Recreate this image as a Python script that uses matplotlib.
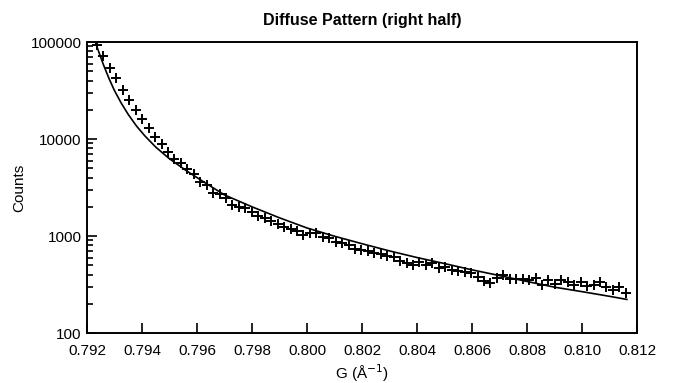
import matplotlib
matplotlib.use("Agg")
import matplotlib.pyplot as plt
from matplotlib.ticker import LogLocator, FixedLocator, FormatStrFormatter, NullFormatter

plt.rcParams['font.family'] = ['Liberation Sans', 'DejaVu Sans']

# measured points (G in 1/Angstrom, counts)
g_data = [0.79236, 0.79259, 0.79283, 0.79306, 0.79330, 0.79353, 0.79377, 0.79400,
          0.79424, 0.79447, 0.79471, 0.79494, 0.79518, 0.79541, 0.79564, 0.79588,
          0.79611, 0.79635, 0.79658, 0.79682, 0.79705, 0.79729, 0.79752, 0.79776,
          0.79799, 0.79823, 0.79846, 0.79869, 0.79893, 0.79916, 0.79940, 0.79963,
          0.79987, 0.80010, 0.80034, 0.80057, 0.80081, 0.80104, 0.80128, 0.80151,
          0.80174, 0.80198, 0.80221, 0.80245, 0.80268, 0.80292, 0.80315, 0.80339,
          0.80362, 0.80386, 0.80409, 0.80432, 0.80456, 0.80479, 0.80503, 0.80526,
          0.80550, 0.80573, 0.80597, 0.80620, 0.80644, 0.80667, 0.80691, 0.80714,
          0.80737, 0.80761, 0.80784, 0.80808, 0.80831, 0.80855, 0.80878, 0.80902,
          0.80925, 0.80949, 0.80972, 0.80996, 0.81019, 0.81042, 0.81066, 0.81089,
          0.81113, 0.81136, 0.81160]
counts = [92500, 71200, 53600, 42100, 32200, 25200, 20100, 16000,
          13000, 10500, 8880, 7400, 6220, 5610, 4850, 4310,
          3590, 3380, 2800, 2710, 2450, 2090, 2010, 1930,
          1780, 1610, 1520, 1440, 1340, 1250, 1175, 1120,
          1025, 1065, 1080, 984, 947, 874, 841, 808,
          735, 717, 700, 663, 645, 622, 612, 556,
          531, 502, 543, 502, 523, 464, 476, 446,
          439, 428, 418, 380, 346, 330, 366, 401,
          358, 362, 362, 355, 366, 313, 355, 320,
          349, 338, 309, 334, 303, 316, 334, 300,
          280, 296, 258]

# fitted curve
g_fit = [0.79230, 0.79245, 0.79260, 0.79280, 0.79300, 0.79325, 0.79350, 0.79380,
         0.79410, 0.79450, 0.79500, 0.79560, 0.79620, 0.79700, 0.79800, 0.79900,
         0.80000, 0.80100, 0.80200, 0.80300, 0.80400, 0.80500, 0.80600, 0.80700,
         0.80800, 0.80900, 0.81000, 0.81100, 0.81163]
c_fit = [100000, 76000, 58000, 42000, 31500, 23300, 17900, 13600,
         10800, 8250, 6250, 4740, 3680, 2650, 2000, 1540,
         1210, 995, 833, 702, 600, 520, 448, 391,
         340, 297, 267, 239, 222]

fig = plt.figure(figsize=(6.73, 3.83), dpi=100)
ax = fig.add_axes([0.1293, 0.1305, 0.8172, 0.7598])

ax.plot(g_fit, c_fit, color='black', lw=1.2)
ax.plot(g_data, counts, linestyle='none', marker='+', color='black',
        markersize=7, markeredgewidth=1.4)

ax.set_yscale('log')
ax.set_xlim(0.792, 0.812)
ax.set_ylim(100, 100000)

ax.xaxis.set_major_locator(FixedLocator([0.792 + 0.002 * i for i in range(11)]))
ax.xaxis.set_major_formatter(FormatStrFormatter('%.3f'))
ax.yaxis.set_major_locator(FixedLocator([100, 1000, 10000, 100000]))
ax.yaxis.set_major_formatter(FormatStrFormatter('%d'))
ax.yaxis.set_minor_locator(LogLocator(base=10, subs=range(2, 10)))
ax.yaxis.set_minor_formatter(NullFormatter())

ax.tick_params(which='both', direction='in', top=False, right=False,
               labelsize=11, width=1.2)
ax.tick_params(axis='x', pad=8)
ax.tick_params(axis='y', pad=4)
ax.tick_params(which='major', length=7)
ax.tick_params(which='minor', length=4)
for s in ax.spines.values():
    s.set_linewidth(1.4)

ax.set_title('Diffuse Pattern (right half)', fontsize=11.5, fontweight='bold', pad=12)
ax.set_xlabel('G (Å$^{-1}$)', fontsize=11, labelpad=3)
ax.set_ylabel('Counts', fontsize=11, labelpad=3)

fig.savefig('out.png', dpi=100)
